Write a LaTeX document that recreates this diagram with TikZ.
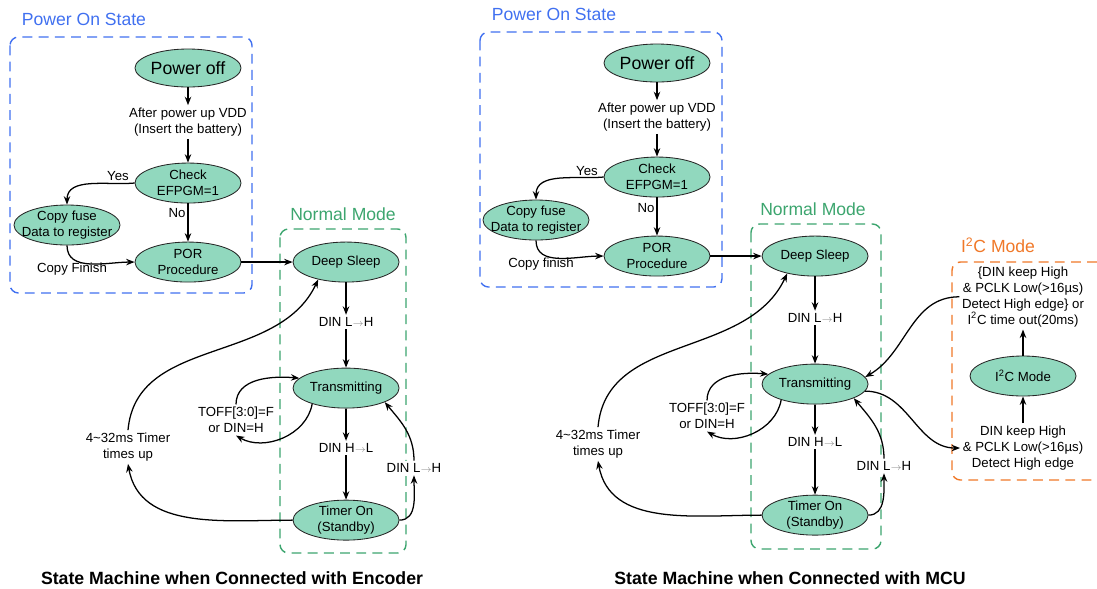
\documentclass[tikz,border=0pt]{standalone}
\usepackage{fontspec}
\setmainfont{Liberation Sans}
\usetikzlibrary{arrows.meta,shapes.geometric,positioning}

\definecolor{statefill}{RGB}{145,216,190}
\definecolor{poweronblue}{RGB}{64,112,240}
\definecolor{normalgreen}{RGB}{60,165,110}
\definecolor{iicorange}{RGB}{240,120,40}

\newcommand{\dinarrow}{{\color{black!45}$\scriptstyle\rightarrow$}}

\begin{document}
\begin{tikzpicture}[x=0.025cm, y=0.025cm, >={Stealth[length=6pt,width=4.6pt]}, line width=0.9pt,
    state/.style={ellipse, draw=black!85, line width=0.6pt, fill=statefill,
        minimum width=2.65cm, minimum height=1cm, inner xsep=-8pt, inner ysep=-4pt,
        align=center, font=\fontsize{9.4}{11.3}\selectfont},
    bigstate/.style={state, minimum height=0.95cm, font=\fontsize{12.6}{15}\selectfont},
    cond/.style={fill=white, inner sep=1.5pt, align=center, font=\fontsize{9.4}{11.3}\selectfont},
    groupbox/.style={dash pattern=on 7pt off 4.5pt, rounded corners=6pt, line width=1pt},
    grouptitle/.style={inner sep=0pt, font=\fontsize{12.5}{15}\selectfont},
    caption/.style={inner sep=0pt, font=\fontsize{12.6}{15}\selectfont\bfseries}]
    \useasboundingbox (0,0) rectangle (1097,-588);

    % ---- Encoder side ----
    \begin{scope}
    % Boxes
    \draw [groupbox, poweronblue] (10,-37) rectangle (252,-293);
    \node [grouptitle, poweronblue] at (84,-19) {Power On State};
    \draw [groupbox, normalgreen] (280,-229) rectangle (406,-553);
    \node [grouptitle, normalgreen] at (343,-214) {Normal Mode};

    % Nodes
    \node [bigstate]    (epwr)                                          at (188,-68) {Power off};
    \node [cond]        (evdd)  [below of=epwr, node distance=1.35cm]  {After power up VDD\\(Insert the battery)};
    \node [state]       (echk)  [below of=epwr, node distance=2.875cm] {Check\\EFPGM=1};
    \node [state]       (epor)  [below of=echk, node distance=1.975cm] {POR\\Procedure};
    \node [state]       (ecpy)                                          at (67,-225) {Copy fuse\\Data to register};
    \node [cond]        (eyes)                                          at (118,-176) {Yes};
    \node [cond]        (eno)                                           at (177,-213) {No};
    \node [cond]        (efin)                                          at (72,-269) {Copy Finish};
    \node [state]       (edeep) [right of=epor, node distance=3.95cm]  {Deep Sleep};
    \node [cond]        (edlh)  [below of=edeep, node distance=1.5cm]  {DIN L\dinarrow H};
    \node [state]       (etrn)  [below of=edeep, node distance=3.15cm] {Transmitting};
    \node [cond]        (edhl)  [below of=etrn, node distance=1.5cm]   {DIN H\dinarrow L};
    \node [state]       (etmr)  [below of=etrn, node distance=3.3cm]   {Timer On\\(Standby)};
    \node [cond]        (etoff)                                         at (236,-420) {TOFF[3:0]=F\\or DIN=H};
    \node [cond]        (etup)                                          at (128,-447) {4\textasciitilde32ms Timer\\times up};
    \node [cond]        (edlh2)                                         at (414,-468) {DIN L\dinarrow H};

    % Paths
    \path [->] (epwr)       edge                        (evdd);
    \path [->] (evdd)       edge                        (echk);
    \path [->] (echk)       edge                        (epor);
    \path [->] (echk.west)  edge [out=185, in=90]       (ecpy.north);
    \path [->] (ecpy.south) edge [out=-90, in=180]      (epor.west);
    \path [->] (epor)       edge                        (edeep);
    \path [->] (edeep)      edge                        (edlh);
    \path [->] (edlh)       edge                        (etrn);
    \path [->] (etrn)       edge                        (edhl);
    \path [->] (edhl)       edge                        (etmr);
    \path [->] (etoff.north) edge [out=90, in=175]      (etrn.168);
    \path [->] (etrn.205)   edge [out=-100, in=-30]     (etoff.south);
    \path [->] (etmr.west)  edge [out=180, in=-80]      (etup.south);
    \path [->] (etup.north) edge [out=85, in=-115]      (edeep.212);
    \path [->] (etmr.east)  edge [out=0, in=-90]        (edlh2.south);
    \path [->] (edlh2.north) edge [out=90, in=-50]      (etrn.-20);
    \end{scope}

    % ---- MCU side ----
    \begin{scope}[shift={(469,5)}]
    % Boxes
    \draw [groupbox, poweronblue] (11,-37) rectangle (253,-292);
    \node [grouptitle, poweronblue] at (85,-19) {Power On State};
    \draw [groupbox, normalgreen] (282,-229) rectangle (412,-554);
    \node [grouptitle, normalgreen] at (344,-214) {Normal Mode};

    % Nodes
    \node [bigstate]    (mpwr)                                          at (188,-68) {Power off};
    \node [cond]        (mvdd)  [below of=mpwr, node distance=1.35cm]  {After power up VDD\\(Insert the battery)};
    \node [state]       (mchk)  [below of=mpwr, node distance=2.85cm]  {Check\\EFPGM=1};
    \node [state]       (mpor)  [below of=mchk, node distance=1.975cm] {POR\\Procedure};
    \node [state]       (mcpy)                                          at (67,-225) {Copy fuse\\Data to register};
    \node [cond]        (myes)                                          at (118,-176) {Yes};
    \node [cond]        (mno)                                           at (177,-213) {No};
    \node [cond]        (mfin)                                          at (72,-269) {Copy finish};
    \node [state]       (mdeep) [right of=mpor, node distance=3.95cm]  {Deep Sleep};
    \node [cond]        (mdlh)  [below of=mdeep, node distance=1.55cm] {DIN L\dinarrow H};
    \node [state]       (mtrn)  [below of=mdeep, node distance=3.2cm]  {Transmitting};
    \node [cond]        (mdhl)  [below of=mtrn, node distance=1.45cm]  {DIN H\dinarrow L};
    \node [state]       (mtmr)  [below of=mtrn, node distance=3.275cm] {Timer On\\(Standby)};
    \node [cond]        (mtoff)                                         at (238,-421) {TOFF[3:0]=F\\or DIN=H};
    \node [cond]        (mtup)                                          at (129,-449) {4\textasciitilde32ms Timer\\times up};
    \node [cond]        (mdlh2)                                         at (415,-471) {DIN L\dinarrow H};

    % Paths
    \path [->] (mpwr)       edge                        (mvdd);
    \path [->] (mvdd)       edge                        (mchk);
    \path [->] (mchk)       edge                        (mpor);
    \path [->] (mchk.west)  edge [out=185, in=90]       (mcpy.north);
    \path [->] (mcpy.south) edge [out=-90, in=180]      (mpor.west);
    \path [->] (mpor)       edge                        (mdeep);
    \path [->] (mdeep)      edge                        (mdlh);
    \path [->] (mdlh)       edge                        (mtrn);
    \path [->] (mtrn)       edge                        (mdhl);
    \path [->] (mdhl)       edge                        (mtmr);
    \path [->] (mtoff.north) edge [out=90, in=175]      (mtrn.168);
    \path [->] (mtrn.205)   edge [out=-100, in=-30]     (mtoff.south);
    \path [->] (mtmr.west)  edge [out=180, in=-80]      (mtup.south);
    \path [->] (mtup.north) edge [out=85, in=-115]      (mdeep.212);
    \path [->] (mtmr.east)  edge [out=0, in=-90]        (mdlh2.south);
    \path [->] (mdlh2.north) edge [out=90, in=-50]      (mtrn.-20);
    \end{scope}

    % ---- I2C mode ----
    \draw [groupbox, iicorange] (1097,-262) -- (952,-262) -- (952,-480) -- (1097,-480);
    \node [grouptitle, iicorange] at (998,-245) {I\textsuperscript{2}C Mode};
    \node [state]       (miic)                                          at (1023,-376) {I\textsuperscript{2}C Mode};
    \node [cond]        (mtop)  [above of=miic, node distance=1.98cm]  {\{DIN keep High\\\& PCLK Low(>16µs)\\Detect High edge\} or\\I\textsuperscript{2}C time out(20ms)};
    \node [cond]        (mbot)  [below of=miic, node distance=1.8cm]   {DIN keep High\\\& PCLK Low(>16µs)\\Detect High edge};
    \path [->] (miic)       edge                        (mtop);
    \path [->] (mbot)       edge                        (miic);
    \path [->] (mtop.west)  edge [out=180, in=30]       (mtrn.8);
    \path [->] (mtrn.-8)    edge [out=0, in=180]        (mbot.west);

    % Captions
    \node [caption] (capenc) at (232,-578) {State Machine when Connected with Encoder};
    \node [caption] (capmcu) at (790,-578) {State Machine when Connected with MCU};
\end{tikzpicture}
\end{document}
